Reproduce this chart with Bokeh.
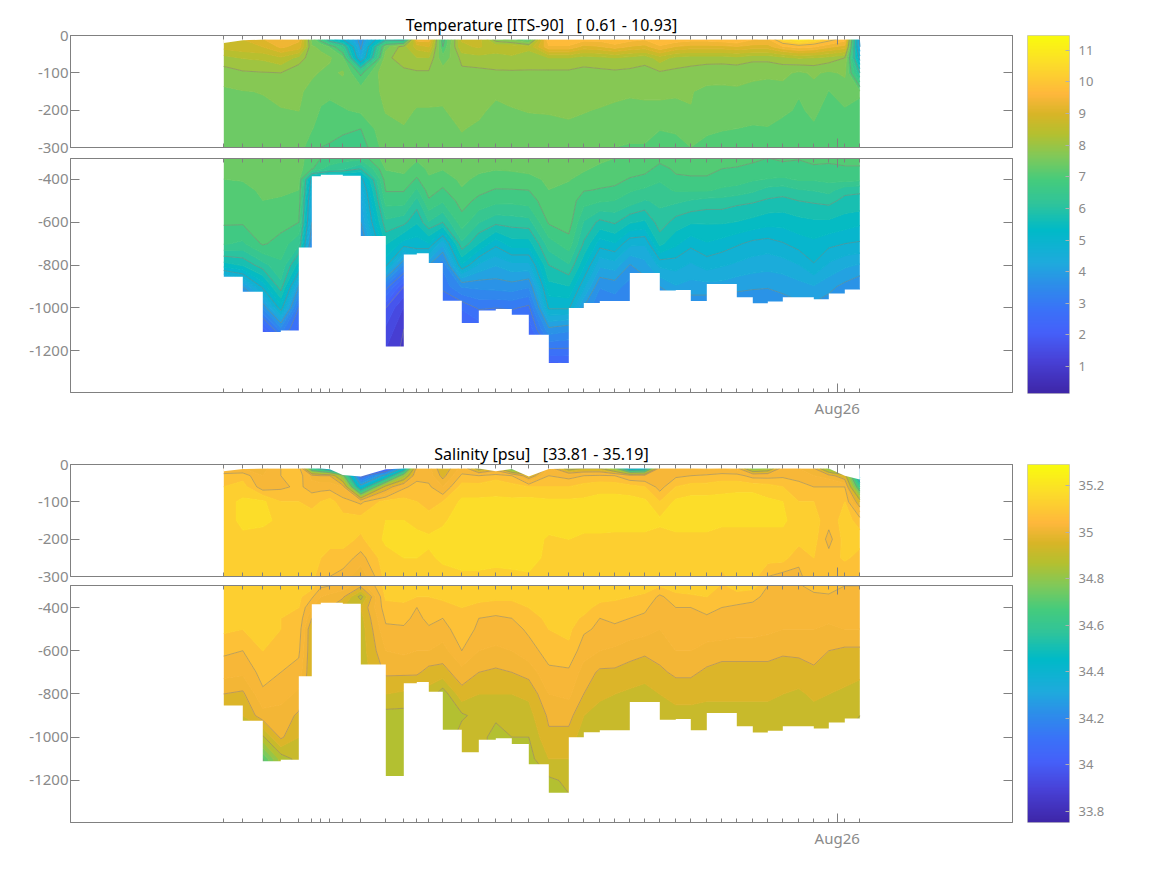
import numpy as np
from bokeh.embed import file_html
from bokeh.resources import INLINE
from bokeh.plotting import figure
from bokeh.layouts import row, column
from bokeh.models import (LinearAxis, FixedTicker, Range1d, LinearColorMapper, Title)

# days relative to Aug 26 of each profile
station_days = [-6.134,-5.944,-5.744,-5.564,-5.384,-5.254,-5.164,-5.074,-4.944,-4.764,-4.514,-4.334,-4.204,-4.084,
 -3.944,-3.754,-3.584,-3.414,-3.254,-3.084,-2.884,-2.684,-2.534,-2.374,-2.224,-2.074,-1.924,-1.774,-1.614,-1.464,
 -1.304,-1.154,-1.004,-0.844,-0.694,-0.544,-0.384,-0.234,-0.084,0.076,0.226]
depth_levels = [10,30,60,100,150,200,250,300,350,400,450,500,600,700,800,900,1000,1100,1200,1260]
seabed = [854,924,1112,1105,718,385,378,378,382,664,1180,750,745,790,966,1070,1012,1005,1032,1125,1257,1000,977,968,968,
 837,837,919,916,968,888,888,950,978,970,950,950,960,932,914,914]
temp_top = [20,13]+[11]*39
sal_top = [18,12,11,11,11,11,11,13,28,32,13,11,11,11,11,11,11,18,12,32,12,11,11,11,11,11,11,11,11,11,11,11,11,11,11,11,11,11,11,30,40]

temperature = [
[8.9,8.8,8.2,7.85,7.6,7.55,7.5,7.45,7.4,7.33,7.3,7.25,7.05,6.7,5.5,3.5,3.2,3,2.5,2],
[9.0,8.9,8.35,7.95,7.65,7.55,7.5,7.45,7.4,7.35,7.25,7.2,7.05,6.6,5.7,4.0,3.4,3,2.5,2],
[9.3,9.0,8.4,7.98,7.68,7.6,7.55,7.5,7.45,7.42,7.38,7.33,7.2,7.05,6.2,5.1,3.7,2.2,1.6,1.5],
[9.7,9.4,8.6,8.0,7.75,7.65,7.6,7.55,7.5,7.45,7.38,7.3,7.15,6.85,6.6,6.2,5.2,3.5,2,1.5],
[9.4,9.2,8.2,7.75,7.7,7.67,7.6,7.5,7.45,7.4,7.33,7.25,7.0,6.4,5.5,4,3,2.5,2,1.5],
[7.5,7.7,7.8,7.7,7.6,7.5,7.35,7.1,7.05,4.8,4.5,4.2,4,3.5,3,2.7,2.5,2.2,2,1.5],
[6.8,7.6,7.75,7.65,7.45,7.3,7.2,7.0,6.7,4.7,4.5,4.2,4,3.5,3,2.7,2.5,2.2,2,1.5],
[5.5,7.3,7.7,7.6,7.4,7.25,7.15,6.95,6.5,4.5,4.3,4.2,4,3.5,3,2.7,2.5,2.2,2,1.5],
[5,6.5,7.4,7.7,7.5,7.3,7.1,6.8,6.4,4.5,4.3,4.2,4,3.5,3,2.7,2.5,2.2,2,1.5],
[3.8,3.9,4.3,6.9,7.5,7.4,7.0,6.8,6.0,4.8,4.4,4.2,4.0,3.5,3,2.7,2.5,2.2,2,1.5],
[5.8,7.5,7.9,7.98,7.72,7.68,7.6,7.5,7.35,7.2,7.03,6.8,6.25,5.7,5.1,3.2,2.0,1.6,1.3,1.2],
[5.5,8.2,8.2,7.9,7.8,7.72,7.65,7.55,7.4,7.25,7.03,6.8,6.1,5.2,3.6,2.0,1.3,1.0,0.9,0.9],
[9.5,8.8,8.3,7.95,7.75,7.65,7.55,7.38,7.2,6.95,6.6,6.2,5.7,5.15,4.5,4.0,3.5,3.0,2.5,2.0],
[9.5,9.0,8.3,7.95,7.75,7.65,7.6,7.5,7.38,7.3,7.15,6.95,6.3,5.3,4.0,3.5,3.0,2.7,2.5,2.0],
[6.8,7.0,7.4,7.85,7.72,7.65,7.55,7.45,7.35,7.15,6.95,6.7,6.0,4.4,3.4,3.1,2.6,2.3,2.1,2.0],
[8.7,8.6,8.1,7.92,7.82,7.75,7.68,7.6,7.5,7.4,7.3,7.15,6.85,6.25,5.3,3.7,2.7,2.3,2.0,1.9],
[8.8,8.7,8.2,7.9,7.78,7.72,7.62,7.5,7.4,7.25,7.1,6.9,6.35,5.65,4.6,3.75,3.05,2.4,2,1.9],
[7.8,8.5,8.2,7.95,7.72,7.6,7.5,7.42,7.35,7.2,6.97,6.75,6.1,5.1,4.35,3.8,3.0,2.5,2,1.9],
[7.5,8.6,8.25,7.95,7.75,7.65,7.55,7.47,7.37,7.2,6.98,6.75,6.15,5.5,4.55,3.85,3.05,2.5,2,1.9],
[7.0,8.4,8.2,7.95,7.78,7.68,7.58,7.5,7.4,7.25,7.0,6.8,6.2,5.5,4.55,3.7,2.9,2.4,2,1.9],
[10,9.6,8.3,7.93,7.78,7.68,7.62,7.55,7.45,7.38,7.33,7.25,7.05,6.5,6.0,5.55,5.05,3.9,2.9,2.2],
[10,9.6,8.3,7.93,7.8,7.7,7.63,7.55,7.45,7.35,7.25,7.2,7.18,6.85,6.3,5.65,5.05,3.75,2.9,2.3],
[9.8,9.2,8.15,7.9,7.75,7.68,7.6,7.5,7.38,7.2,7.02,6.8,6.3,5.95,5.4,4.75,3.95,3.5,3,2.5],
[9.8,9.3,8.2,7.92,7.76,7.65,7.55,7.42,7.25,7.1,6.98,6.7,5.9,5.15,4.4,3.7,3.3,3,2.7,2.5],
[10,9.5,8.3,7.93,7.75,7.6,7.48,7.33,7.2,7.07,6.95,6.65,6.05,5.3,4.5,3.8,3.4,3,2.7,2.5],
[9.8,9.3,8.2,7.92,7.7,7.6,7.45,7.3,7.1,6.98,6.7,6.5,5.7,4.75,3.98,3.5,3.3,3,2.7,2.5],
[9.7,9.2,8.1,7.9,7.72,7.6,7.45,7.3,7.1,6.9,6.6,6.3,5.6,4.7,4.2,3.8,3.4,3,2.7,2.5],
[10,9.6,8.5,7.95,7.72,7.6,7.35,7.1,6.9,6.7,6.55,6.4,6.2,5.75,4.75,4.0,3.6,3.2,2.9,2.7],
[9.9,9.3,8.2,7.92,7.7,7.6,7.4,7.15,7.05,6.95,6.7,6.4,5.85,5.4,4.8,4.3,3.7,3.2,2.9,2.7],
[9.8,9.2,8.15,7.88,7.68,7.66,7.45,7.33,7.1,6.95,6.7,6.3,5.7,5.1,4.6,4.2,3.7,3.2,2.9,2.7],
[9.8,9.2,8.15,7.8,7.6,7.5,7.38,7.25,7.1,6.95,6.7,6.2,5.7,5.3,4.8,4.2,3.7,3.2,2.9,2.7],
[9.9,9.2,8.15,7.78,7.6,7.5,7.35,7.2,7.0,6.85,6.6,6.2,5.7,5.2,4.7,4.2,3.7,3.2,2.9,2.7],
[10,9.3,8.2,7.78,7.62,7.5,7.33,7.15,6.97,6.8,6.55,6.1,5.65,5.05,4.6,4.1,3.7,3.2,2.9,2.7],
[9.7,9.2,8.1,7.72,7.6,7.45,7.3,7.08,6.9,6.7,6.4,6.05,5.55,4.9,4.5,4.05,3.7,3.2,2.9,2.7],
[9.6,9.2,8.1,7.72,7.55,7.42,7.32,7.0,6.85,6.65,6.2,5.95,5.45,4.85,4.45,4.03,3.7,3.2,2.9,2.7],
[10.5,9.6,8.2,7.75,7.55,7.38,7.25,7.05,6.9,6.6,6.15,5.9,5.45,4.97,4.5,4.1,3.8,3.2,2.9,2.7],
[10.9,9.8,8.35,7.6,7.35,7.3,7.2,7.02,6.9,6.7,6.3,6.0,5.55,5.15,4.65,4.2,3.9,3.2,2.9,2.7],
[10.6,9.7,8.3,7.72,7.55,7.38,7.3,7.08,6.95,6.7,6.35,6.05,5.6,5.25,4.97,4.3,3.9,3.2,2.9,2.7],
[10.2,9.4,8.2,7.6,7.32,7.25,7.15,7.05,6.95,6.75,6.45,6.1,5.6,5.1,4.6,4.1,3.8,3.2,2.9,2.7],
[9.8,9.2,8.0,7.72,7.5,7.3,7.2,7.08,6.97,6.8,6.1,5.9,5.5,5.0,4.4,3.9,3.5,3.2,2.9,2.7],
[3.8,4.0,4.8,6.0,7.35,7.3,7.25,7.08,6.97,6.75,6.05,5.9,5.4,4.95,4.3,3.7,3.4,3.2,2.9,2.7],
]

salinity = [
[35.0,35.07,35.1,35.13,35.13,35.13,35.12,35.12,35.12,35.12,35.12,35.11,35.06,35.02,34.95,34.9,34.85,34.85,34.85,34.85],
[35.0,35.08,35.12,35.16,35.16,35.14,35.12,35.12,35.12,35.12,35.11,35.1,35.05,35.01,34.94,34.9,34.85,34.85,34.85,34.85],
[34.98,35.0,35.02,35.16,35.16,35.13,35.12,35.12,35.12,35.12,35.12,35.12,35.1,35.07,35.04,34.98,34.84,34.65,34.6,34.6],
[35.05,35.05,35.04,35.1,35.14,35.13,35.12,35.12,35.12,35.11,35.1,35.1,35.08,35.05,35.02,34.98,34.96,34.82,34.8,34.8],
[35.1,35.08,35.06,35.1,35.12,35.13,35.12,35.12,35.11,35.1,35.09,35.08,35.06,35.03,34.99,34.94,34.9,34.87,34.85,34.85],
[34.5,34.98,35.03,35.08,35.13,35.13,35.12,35.12,35.06,35.0,34.95,34.9,34.9,34.9,34.9,34.9,34.9,34.9,34.9,34.9],
[34.4,34.95,35.03,35.1,35.13,35.12,35.1,35.06,35.0,34.97,34.9,34.9,34.9,34.9,34.9,34.9,34.9,34.9,34.9,34.9],
[34.2,34.95,35.03,35.12,35.12,35.11,35.09,35.05,34.98,34.95,34.9,34.9,34.9,34.9,34.9,34.9,34.9,34.9,34.9,34.9],
[34.1,34.7,35.0,35.07,35.12,35.12,35.08,35.03,34.96,34.9,34.9,34.9,34.9,34.9,34.9,34.9,34.9,34.9,34.9,34.9],
[33.9,34.0,34.3,35.04,35.12,35.09,35.03,34.96,34.83,34.9,34.88,34.87,34.87,34.87,34.85,34.85,34.85,34.85,34.85,34.85],
[33.85,34.3,34.9,35.12,35.15,35.16,35.13,35.12,35.11,35.08,35.06,35.04,35.0,34.96,34.9,34.83,34.83,34.82,34.82,34.82],
[34.3,34.75,35.04,35.12,35.15,35.17,35.15,35.12,35.11,35.09,35.07,35.04,35.01,34.96,34.89,34.83,34.83,34.82,34.82,34.82],
[35.0,35.03,35.07,35.1,35.13,35.17,35.15,35.12,35.1,35.05,35.03,35.02,35.0,34.96,34.88,34.85,34.85,34.85,34.85,34.85],
[35.02,35.03,35.06,35.08,35.12,35.16,35.14,35.12,35.1,35.09,35.07,35.04,35.0,34.93,34.88,34.85,34.85,34.85,34.85,34.85],
[34.9,34.93,35.0,35.1,35.14,35.17,35.16,35.13,35.11,35.08,35.05,35.03,34.98,34.93,34.82,34.8,34.8,34.8,34.8,34.8],
[35.02,35.06,35.12,35.16,35.18,35.18,35.17,35.14,35.12,35.1,35.09,35.08,35.05,34.98,34.93,34.84,34.88,34.88,34.88,34.88],
[34.8,35.05,35.12,35.16,35.18,35.18,35.17,35.14,35.12,35.08,35.05,35.04,35.0,34.95,34.9,34.87,34.87,34.87,34.87,34.87],
[34.9,35.08,35.13,35.16,35.18,35.18,35.17,35.13,35.11,35.08,35.04,35.03,34.99,34.94,34.9,34.86,34.83,34.83,34.83,34.83],
[34.6,35.05,35.12,35.16,35.18,35.18,35.18,35.13,35.11,35.08,35.05,35.03,35.0,34.95,34.9,34.87,34.85,34.85,34.85,34.85],
[34.6,34.9,35.1,35.17,35.18,35.18,35.18,35.14,35.12,35.1,35.08,35.06,35.03,34.97,34.91,34.88,34.85,34.83,34.83,34.83],
[35.0,35.05,35.1,35.16,35.18,35.14,35.13,35.13,35.13,35.12,35.11,35.1,35.07,35.04,35.0,34.96,34.94,34.9,34.84,34.82],
[34.8,35.03,35.1,35.16,35.18,35.15,35.13,35.13,35.13,35.13,35.12,35.11,35.09,35.04,35.01,34.97,34.93,34.9,34.86,34.85],
[34.85,35.05,35.12,35.16,35.17,35.14,35.13,35.14,35.13,35.12,35.09,35.06,35.02,34.98,34.95,34.9,34.87,34.87,34.87,34.87],
[34.85,35.06,35.13,35.17,35.17,35.14,35.13,35.13,35.12,35.08,35.05,35.04,35.0,34.94,34.91,34.88,34.86,34.86,34.86,34.86],
[34.7,35.05,35.13,35.17,35.18,35.13,35.13,35.13,35.11,35.08,35.06,35.04,34.99,34.94,34.9,34.87,34.85,34.85,34.85,34.85],
[34.2,35.0,35.12,35.17,35.18,35.13,35.13,35.12,35.1,35.07,35.05,35.03,34.97,34.93,34.89,34.86,34.85,34.85,34.85,34.85],
[34.3,35.0,35.1,35.16,35.18,35.13,35.13,35.12,35.09,35.06,35.04,35.02,34.96,34.92,34.88,34.85,34.85,34.85,34.85,34.85],
[35.0,35.02,35.03,35.1,35.16,35.13,35.13,35.1,35.04,35.02,35.01,35.0,34.97,34.94,34.9,34.87,34.87,34.87,34.87,34.87],
[35.0,35.04,35.1,35.16,35.18,35.13,35.13,35.13,35.08,35.05,35.04,35.03,35.0,34.96,34.92,34.88,34.87,34.87,34.87,34.87],
[35.0,35.05,35.12,35.17,35.18,35.13,35.13,35.13,35.09,35.05,35.04,35.03,35.0,34.96,34.92,34.88,34.87,34.87,34.87,34.87],
[34.98,35.06,35.12,35.17,35.18,35.13,35.13,35.14,35.1,35.07,35.04,35.03,34.98,34.94,34.91,34.88,34.87,34.87,34.87,34.87],
[35.0,35.07,35.13,35.17,35.16,35.13,35.12,35.09,35.06,35.05,35.04,35.03,34.97,34.93,34.91,34.88,34.87,34.87,34.87,34.87],
[34.98,35.07,35.13,35.18,35.16,35.13,35.12,35.12,35.08,35.04,35.03,35.02,34.97,34.93,34.91,34.88,34.87,34.87,34.87,34.87],
[34.7,35.03,35.13,35.18,35.16,35.13,35.12,35.12,35.06,35.04,35.03,35.02,34.97,34.93,34.91,34.88,34.87,34.87,34.87,34.87],
[34.75,35.03,35.12,35.16,35.16,35.13,35.12,35.05,35.04,35.03,35.02,35.01,34.97,34.93,34.91,34.88,34.87,34.87,34.87,34.87],
[35.0,35.04,35.1,35.15,35.16,35.13,35.12,35.03,35.03,35.02,35.01,35.0,34.96,34.92,34.9,34.88,34.87,34.87,34.87,34.87],
[35.0,35.03,35.07,35.1,35.12,35.12,35.06,35.04,35.03,35.02,35.01,35.0,34.96,34.93,34.89,34.87,34.87,34.87,34.87,34.87],
[34.95,35.0,35.05,35.1,35.12,35.12,35.1,35.08,35.03,35.02,35.01,35.0,34.97,34.94,34.91,34.88,34.87,34.87,34.87,34.87],
[34.7,34.98,35.05,35.1,35.07,35.03,35.07,35.08,35.04,35.02,35.01,34.99,34.95,34.93,34.9,34.86,34.85,34.85,34.85,34.85],
[34.5,34.9,35.05,35.1,35.12,35.12,35.11,35.05,35.03,35.02,35.01,35.0,34.94,34.92,34.89,34.86,34.85,34.85,34.85,34.85],
[34.0,34.3,34.55,34.9,35.08,35.12,35.08,35.05,35.03,35.02,35.01,35.0,34.94,34.91,34.88,34.85,34.85,34.85,34.85,34.85],
]

temp_title = "Temperature [ITS-90]\u00a0\u00a0\u00a0[ 0.61 - 10.93]"
sal_title = "Salinity [psu]\u00a0\u00a0\u00a0[33.81 - 35.19]"
upper_ticks = [-300,-200,-100,0]
lower_ticks = [-1200,-1000,-800,-600,-400]
temp_bar_ticks = [1,2,3,4,5,6,7,8,9,10,11]
sal_bar_ticks = [33.8,34,34.2,34.4,34.6,34.8,35,35.2]
temp_clim = (0.146, 11.47)
sal_clim = (33.753, 35.29)
temp_lines = [1,2,3,4,5,6,7,8,10]
sal_lines = [33.85,34.05,34.25,34.45,34.65,34.85,34.95,35.05]

# colour bar stops, fraction of the bar from bottom to top
cmap_pos = [0,0.093,0.168,0.233,0.312,0.363,0.456,0.531,0.596,0.661,0.726,0.782,0.838,0.922,1]
cmap_rgb = [(62,38,168),(72,66,216),(69,96,249),(58,114,248),(43,145,232),(31,170,221),(0,186,200),(48,196,154),
            (69,203,124),(127,201,90),(181,192,47),(216,181,39),(254,183,60),(252,220,42),(249,251,14)]
GREY = "#808080"
FONT = "Noto Sans"

def colour(f):
    f = np.clip(f, 0, 1)
    r, g, b = [int(round(np.interp(f, cmap_pos, [c[i] for c in cmap_rgb]))) for i in range(3)]
    return "#%02x%02x%02x" % (r, g, b)

def band_colours(levels, clim, shift):
    out = []
    for a, b in zip(levels[:-1], levels[1:]):
        mid = 0.5*(a+b)
        if mid < shift[0]:
            mid += shift[1]
        out.append(colour((mid-clim[0])/(clim[1]-clim[0])))
    return out

def style_axis(ax, font_size="15px"):
    ax.axis_line_color = GREY
    ax.major_tick_line_color = GREY
    ax.minor_tick_line_color = GREY
    ax.major_label_text_color = "#8a8a8a"
    ax.major_label_text_font = FONT
    ax.major_label_text_font_size = font_size
    ax.major_label_standoff = 2
    ax.major_tick_out = 0
    ax.minor_tick_out = 0
    ax.major_tick_in = 9
    ax.minor_tick_in = 4

def panel(field, line_levels, fill_levels, clim, shift, top, y_range, ticks, height, b_top, b_bot,
          title=None, label_x=False, margin=0):
    p = figure(width=1017, height=height, output_backend="svg", toolbar_location=None,
               x_range=Range1d(-7.667, 1.753), y_range=Range1d(*y_range), x_axis_type=None, y_axis_type=None,
               min_border_left=70, min_border_right=5, min_border_top=b_top, min_border_bottom=b_bot,
               border_fill_color=None, margin=(margin, 0, 0, 0))
    p.grid.visible = False
    p.outline_line_color = GREY
    xs = np.array(station_days)
    ys = -np.array(depth_levels[::-1], dtype=float)
    z = np.array(field, dtype=float).T[::-1, :]
    fills = band_colours(fill_levels, clim, shift)
    p.contour(xs, ys, z, levels=fill_levels, fill_color=fills, line_color=fills+[fills[-1]], line_width=1.2)
    p.contour(xs, ys, z, levels=line_levels, line_color="#808080", line_alpha=0.5, line_width=1)
    # the seabed steps run a little past both ends of the section so no sliver is left at its edges
    mask_x = np.concatenate([[xs[0]-0.3], xs, [xs[-1]+0.3]])
    bed = -np.array([seabed[0]] + seabed + [seabed[-1]], dtype=float)
    p.varea_step(x=mask_x, y1=bed, y2=[-1500]*len(mask_x), step_mode="after", fill_color="white")
    p.varea(x=xs, y1=[0.0]*len(xs), y2=-np.array(top, dtype=float), fill_color="white")
    xt = FixedTicker(ticks=[0], minor_ticks=station_days)
    yt = FixedTicker(ticks=ticks)
    labels = {t: str(t) for t in ticks}
    for side in ("below", "above"):
        ax = LinearAxis(ticker=xt)
        style_axis(ax)
        if side == "below" and label_x:
            ax.major_label_overrides = {0: "Aug26"}
            ax.major_label_standoff = 5
        else:
            ax.major_label_overrides = {0: ""}
            ax.major_label_standoff = 0
        p.add_layout(ax, side)
    for side in ("left", "right"):
        ax = LinearAxis(ticker=yt, major_label_overrides=labels)
        style_axis(ax)
        if side == "right":
            ax.major_label_overrides = {t: "" for t in ticks}
            ax.major_label_standoff = 0
        p.add_layout(ax, side)
    if title:
        t = Title(text=title, align="center", text_color="black", text_font=FONT, text_font_size="16px",
                  text_font_style="normal", standoff=0, offset=0)
        p.add_layout(t, "above")
    return p

def bar(clim, ticks, height, b_top, b_bot):
    p = figure(width=92, height=height, output_backend="svg", toolbar_location=None,
               x_range=Range1d(0, 1), y_range=Range1d(*clim), x_axis_type=None, y_axis_type=None,
               min_border_left=10, min_border_right=40, min_border_top=b_top, min_border_bottom=b_bot)
    p.grid.visible = False
    p.outline_line_color = "#c8c8c8"
    grad = np.linspace(clim[0], clim[1], 256).reshape(-1, 1)
    mapper = LinearColorMapper(palette=[colour(i/255) for i in range(256)], low=clim[0], high=clim[1])
    p.image(image=[grad], x=0, y=clim[0], dw=1, dh=clim[1]-clim[0], color_mapper=mapper)
    ax = LinearAxis(ticker=FixedTicker(ticks=ticks), major_label_overrides={t: str(t) for t in ticks})
    style_axis(ax, "13px")
    ax.axis_line_color = None
    ax.major_tick_in = 4
    ax.major_tick_line_color = "#b0b0b0"
    ax.major_label_standoff = 9
    p.add_layout(ax, "right")
    return p

temp_fill = [round(i/3, 4) for i in range(0, 37)]
sal_fill = [round(33.75+0.05*i, 2) for i in range(0, 32)]
temp_shift = (99, -0.1)
sal_shift = (35.0, 0.04)

f1 = panel(temperature, temp_lines, temp_fill, temp_clim, temp_shift, temp_top, (-300, 0), upper_ticks, 158, 35, 11, title=temp_title)
f2 = panel(temperature, temp_lines, temp_fill, temp_clim, temp_shift, temp_top, (-1395, -302), lower_ticks, 262, 0, 27, label_x=True)
f3 = panel(salinity, sal_lines, sal_fill, sal_clim, sal_shift, sal_top, (-300, 0), upper_ticks, 169, 44, 13, title=sal_title)
f4 = panel(salinity, sal_lines, sal_fill, sal_clim, sal_shift, sal_top, (-1395, -298), lower_ticks, 271, 4, 30, label_x=True, margin=-8)
c1 = bar(temp_clim, temp_bar_ticks, 420, 35, 27)
c2 = bar(sal_clim, sal_bar_ticks, 432, 44, 30)

page = row(column(f1, f2, f3, f4, spacing=0), column(c1, c2, spacing=0), spacing=0)
open("out.html", "w").write(file_html(page, INLINE))
